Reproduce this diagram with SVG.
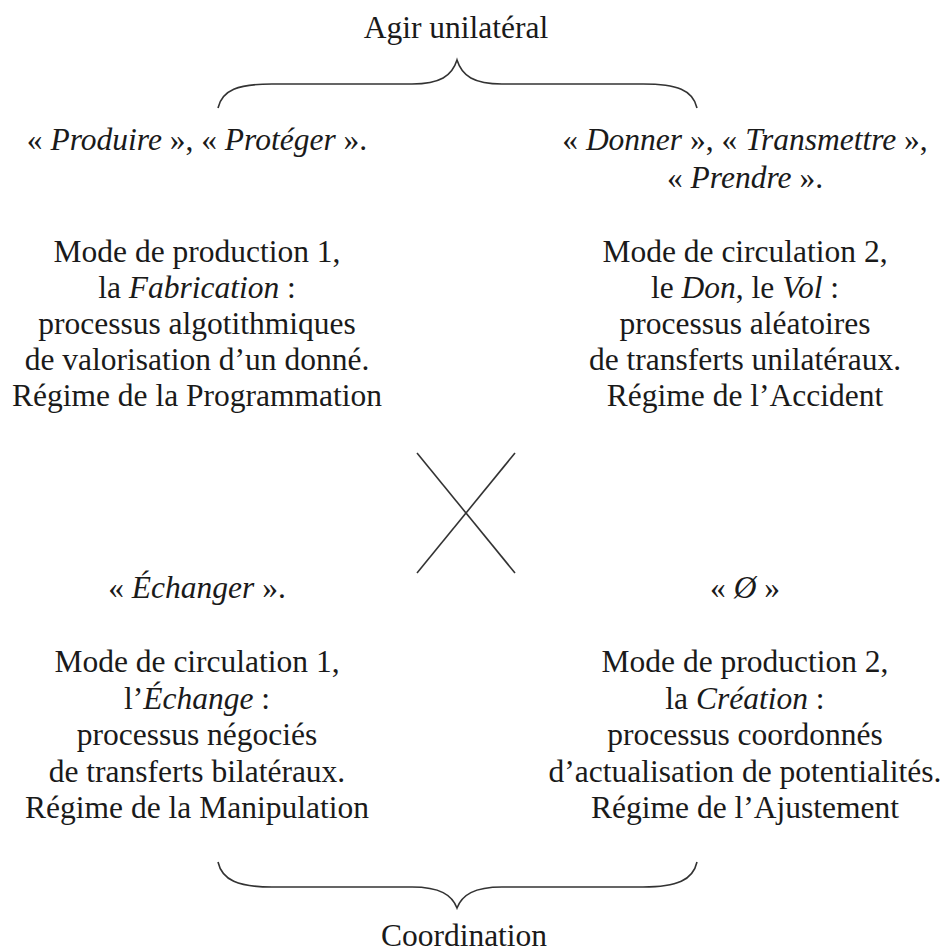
<svg xmlns="http://www.w3.org/2000/svg" width="945" height="952" viewBox="0 0 945 952">
<style>
text{font-family:'Liberation Serif','DejaVu Serif','Noto Serif',Times,serif;font-size:31.5px;fill:#1a1a1a;text-anchor:middle}
.i{font-style:italic}
.c{fill:none;stroke:#333;stroke-width:1.6}
</style>
<rect width="945" height="952" fill="#fff"/>
<g id="connectors">
<path class="c" d="M218,108 C222,90 238,84 272,84 L412,84 C440,84 452,76 457,60 C462,76 474,84 502,84 L643,84 C677,84 693,90 697,108"/>
<path class="c" d="M218,862 C222,880 238,887 272,887 L412,887 C440,887 452,895 457,908 C462,895 474,887 502,887 L643,887 C677,887 693,880 697,862"/>
<line class="c" x1="417" y1="453" x2="515" y2="573"/>
<line class="c" x1="417" y1="573" x2="515" y2="453"/>
</g>
<g id="top-label" font-family="Liberation Serif, serif"><text x="456" y="38">Agir unilatéral</text></g>
<g id="bottom-label" font-family="Liberation Serif, serif"><text x="464" y="946">Coordination</text></g>
<g id="node-tl" font-family="Liberation Serif, serif">
<text x="197" y="150">« <tspan class="i">Produire</tspan> », « <tspan class="i">Protéger</tspan> ».</text>
<text x="197" y="262">Mode de production 1,</text>
<text x="197" y="298">la <tspan class="i">Fabrication</tspan> :</text>
<text x="197" y="334">processus algotithmiques</text>
<text x="197" y="370">de valorisation d’un donné.</text>
<text x="197" y="406">Régime de la Programmation</text>
</g>
<g id="node-tr" font-family="Liberation Serif, serif">
<text x="745" y="150">« <tspan class="i">Donner</tspan> », « <tspan class="i">Transmettre</tspan> »,</text>
<text x="745" y="188">« <tspan class="i">Prendre</tspan> ».</text>
<text x="745" y="262">Mode de circulation 2,</text>
<text x="745" y="298">le <tspan class="i">Don</tspan>, le <tspan class="i">Vol</tspan> :</text>
<text x="745" y="334">processus aléatoires</text>
<text x="745" y="370">de transferts unilatéraux.</text>
<text x="745" y="406">Régime de l’Accident</text>
</g>
<g id="node-bl" font-family="Liberation Serif, serif">
<text x="197" y="598">« <tspan class="i">Échanger</tspan> ».</text>
<text x="197" y="672">Mode de circulation 1,</text>
<text x="197" y="709">l’<tspan class="i">Échange</tspan> :</text>
<text x="197" y="745">processus négociés</text>
<text x="197" y="782">de transferts bilatéraux.</text>
<text x="197" y="818">Régime de la Manipulation</text>
</g>
<g id="node-br" font-family="Liberation Serif, serif">
<text x="745" y="598">« <tspan class="i">Ø</tspan> »</text>
<text x="745" y="672">Mode de production 2,</text>
<text x="745" y="709">la <tspan class="i">Création</tspan> :</text>
<text x="745" y="745">processus coordonnés</text>
<text x="745" y="782">d’actualisation de potentialités.</text>
<text x="745" y="818">Régime de l’Ajustement</text>
</g>
</svg>
